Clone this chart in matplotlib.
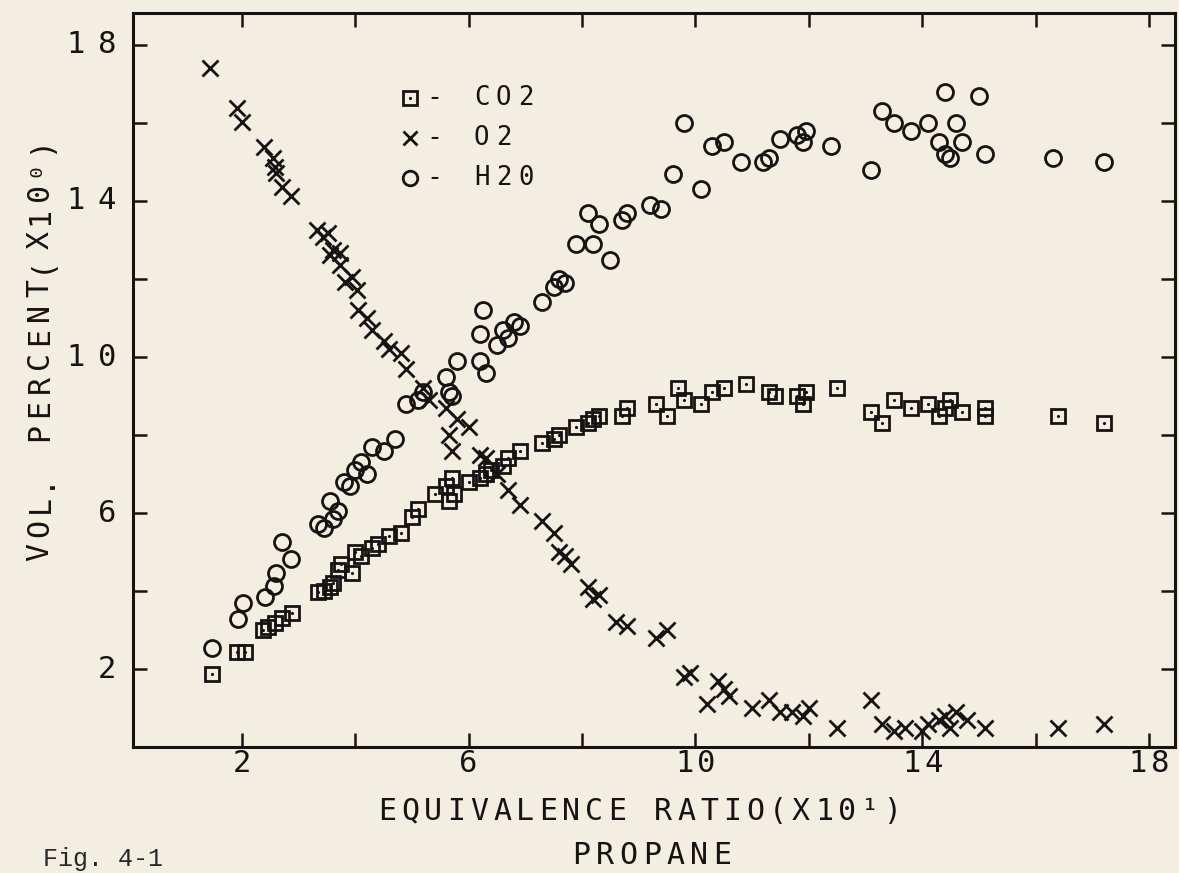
import matplotlib
matplotlib.use('Agg')
import matplotlib.pyplot as plt
from matplotlib.transforms import offset_copy
import numpy as np

# CO2 (squares)
co2_x = [1.47, 1.92, 2.05, 2.37, 2.47, 2.58, 2.7, 2.88, 3.35, 3.45, 3.55, 3.6, 3.7, 3.75, 3.95, 4.0,
         4.1, 4.3, 4.4, 4.6, 4.8, 5.0, 5.1, 5.4, 5.6, 5.65, 5.7, 5.75, 6.0, 6.2, 6.3, 6.4, 6.6, 6.7,
         6.9, 7.3, 7.5, 7.6, 7.9, 8.1, 8.2, 8.3, 8.7, 8.8, 9.3, 9.5, 9.7, 9.8, 10.1, 10.3, 10.5, 10.9,
         11.3, 11.4, 11.8, 11.9, 11.95, 12.5, 13.1, 13.3, 13.5, 13.8, 14.1, 14.3, 14.4, 14.5, 14.7,
         15.1, 15.1, 16.4, 17.2]
co2_y = [1.87, 2.44, 2.44, 3.0, 3.08, 3.18, 3.3, 3.44, 3.97, 4.0, 4.1, 4.2, 4.55, 4.7, 4.45, 5.0,
         4.9, 5.1, 5.2, 5.4, 5.5, 5.9, 6.1, 6.5, 6.7, 6.3, 6.9, 6.5, 6.8, 6.9, 7.0, 7.1, 7.2, 7.4,
         7.6, 7.8, 7.9, 8.0, 8.2, 8.3, 8.4, 8.5, 8.5, 8.7, 8.8, 8.5, 9.2, 8.9, 8.8, 9.1, 9.2, 9.3,
         9.1, 9.0, 9.0, 8.8, 9.1, 9.2, 8.6, 8.3, 8.9, 8.7, 8.8, 8.5, 8.7, 8.9, 8.6,
         8.7, 8.5, 8.5, 8.3]

# O2 (crosses)
o2_x = [1.44, 1.91, 2.0, 2.39, 2.55, 2.58, 2.6, 2.71, 2.86, 3.32, 3.43, 3.52, 3.55, 3.6, 3.73, 3.73,
        3.82, 3.94, 4.03, 4.05, 4.2, 4.3, 4.5, 4.6, 4.8, 4.9, 5.2, 5.3, 5.6, 5.65, 5.7, 5.8, 6.0,
        6.2, 6.3, 6.5, 6.7, 6.9, 7.3, 7.5, 7.6, 7.7, 7.8, 8.1, 8.2, 8.3, 8.6, 8.8, 9.3, 9.5, 9.8,
        9.9, 10.2, 10.4, 10.5, 10.6, 11.0, 11.3, 11.5, 11.7, 11.9, 12.0, 12.5, 13.1, 13.3, 13.5,
        13.7, 14.0, 14.1, 14.3, 14.4, 14.5, 14.6, 14.8, 15.1, 16.4, 17.2]
o2_y = [17.41, 16.38, 16.03, 15.38, 15.1, 14.87, 14.72, 14.36, 14.13, 13.26, 13.08, 13.18, 12.62,
        12.74, 12.67, 12.36, 11.92, 12.05, 11.72, 11.2, 11.0, 10.7, 10.4, 10.2, 10.1, 9.7, 9.2, 8.9,
        8.7, 8.0, 7.6, 8.4, 8.2, 7.5, 7.4, 7.0, 6.6, 6.2, 5.8, 5.5, 5.0, 4.9, 4.7, 4.1, 3.8, 3.9,
        3.2, 3.1, 2.8, 3.0, 1.8, 1.9, 1.1, 1.7, 1.5, 1.3, 1.0, 1.2, 0.9, 0.9, 0.8, 1.0, 0.5, 1.2,
        0.6, 0.4, 0.5, 0.4, 0.6, 0.7, 0.8, 0.5, 0.9, 0.7, 0.5, 0.5, 0.6]

# H2O (circles)
h2o_x = [1.47, 1.93, 2.02, 2.41, 2.56, 2.6, 2.71, 2.86, 3.35, 3.45, 3.6, 3.7, 3.55, 3.8, 3.9, 4.0,
         4.1, 4.2, 4.3, 4.5, 4.7, 4.9, 5.1, 5.2, 5.6, 5.65, 5.7, 5.8, 6.2, 6.25, 6.3, 6.2, 6.5,
         6.6, 6.7, 6.8, 6.9, 7.3, 7.5, 7.6, 7.7, 7.9, 8.1, 8.2, 8.3, 8.5, 8.7, 8.8, 9.2, 9.4, 9.6,
         9.8, 10.1, 10.3, 10.5, 10.8, 11.2, 11.3, 11.5, 11.8, 11.9, 11.95, 12.4, 13.1, 13.3, 13.5,
         13.8, 14.1, 14.3, 14.4, 14.4, 14.5, 14.6, 14.7, 15.0, 15.1, 16.3, 17.2]
h2o_y = [2.54, 3.28, 3.69, 3.84, 4.13, 4.46, 5.26, 4.82, 5.72, 5.62, 5.85, 6.05, 6.3, 6.8, 6.7,
         7.1, 7.3, 7.0, 7.7, 7.6, 7.9, 8.8, 8.9, 9.1, 9.5, 9.1, 9.0, 9.9, 10.6, 11.2, 9.6, 9.9,
         10.3, 10.7, 10.5, 10.9, 10.8, 11.4, 11.8, 12.0, 11.9, 12.9, 13.7, 12.9, 13.4, 12.5, 13.5,
         13.7, 13.9, 13.8, 14.7, 16.0, 14.3, 15.4, 15.5, 15.0, 15.0, 15.1, 15.6, 15.7, 15.5, 15.8,
         15.4, 14.8, 16.3, 16.0, 15.8, 16.0, 15.5, 15.2, 16.8, 15.1, 16.0, 15.5, 16.7, 15.2, 15.1,
         15.0]

ticks = np.arange(2, 19, 2)
label_ticks = [2, 6, 10, 14, 18]
legend_names = ['CO2', 'O2', 'H20']

ink = '#161412'
bg = '#f3eee2'
mono = ['DejaVu Sans Mono', 'DejaVu Sans']

fig = plt.figure(figsize=(11.79, 8.73), dpi=100, facecolor=bg)
ax = fig.add_axes([0.1128, 0.1443, 0.8838, 0.8408])
ax.set_facecolor(bg)


# plotter style text: one glyph per fixed step (in pixels)
def ptext(x, y, s, trans, pitch=23, size=21, rot=0, align='center'):
    n = len(s)
    if align == 'center':
        first = -(n - 1) / 2
    elif align == 'right':
        first = -(n - 1)
    else:
        first = 0
    for i, ch in enumerate(s):
        off = (first + i) * pitch
        dx, dy = (0, off) if rot == 90 else (off, 0)
        tr = offset_copy(trans, fig=fig, x=dx, y=dy, units='dots')
        fig.text(x, y, ch, transform=tr, family=mono, fontsize=size, color=ink,
                 ha='center', va='center', rotation=rot)


ax.plot(co2_x, co2_y, ls='none', marker='s', ms=10.5, mfc='none', mec=ink, mew=2.0)
ax.plot(co2_x, co2_y, ls='none', marker='.', ms=2.5, color=ink)
ax.plot(o2_x, o2_y, ls='none', marker='x', ms=11, color=ink, mew=2.0)
ax.plot(h2o_x, h2o_y, ls='none', marker='o', ms=11.5, mfc='none', mec=ink, mew=2.0)

ax.set_xlim(0.08, 18.46)
ax.set_ylim(0.0, 18.82)
ax.set_xticks(ticks)
ax.set_yticks(ticks)
ax.set_xticklabels([])
ax.set_yticklabels([])
ax.tick_params(direction='in', length=10, width=1.8, color=ink, top=True, right=True)
for s in ax.spines.values():
    s.set_linewidth(2.2)
    s.set_color(ink)

xt = ax.get_xaxis_transform()
yt = ax.get_yaxis_transform()
for t in label_ticks:
    ptext(t, 0, str(t), offset_copy(xt, fig=fig, x=0, y=-16, units='dots'), pitch=22, size=22)
    ptext(0, t, str(t), offset_copy(yt, fig=fig, x=-26, y=0, units='dots'), pitch=31, size=22,
          align='right')

# legend drawn as plotter text
markers = ['s', 'x', 'o']
for i, (m, lab) in enumerate(zip(markers, legend_names)):
    yy = 16.64 - 1.025 * i
    ax.plot([4.96], [yy], marker=m, ms=10.5, mfc='none', mec=ink, mew=2.0, color=ink, ls='none')
    ptext(5.39, yy, '-', ax.transData, size=19)
    ptext(6.23, yy, lab, ax.transData, pitch=22, size=18.5, align='left')
ax.plot([4.96], [16.64], marker='.', ms=2.5, color=ink)

ft = fig.transFigure
ptext(640 / 1179, 1 - 811 / 873, 'EQUIVALENCE RATIO(X10\u00b9)', ft, size=21.5)
ptext(652 / 1179, 1 - 855 / 873, 'PROPANE', ft, pitch=23.5, size=21.5)
ptext(40 / 1179, 1 - 348 / 873, 'VOL. PERCENT(X10\u2070)', ft, pitch=24, size=21.5, rot=90)
fig.text(43 / 1179, 1 - 859 / 873, 'Fig. 4-1', family='Liberation Mono', fontsize=18,
         color='#262626', ha='left', va='center')

fig.savefig('out.png', dpi=100, facecolor=bg)
